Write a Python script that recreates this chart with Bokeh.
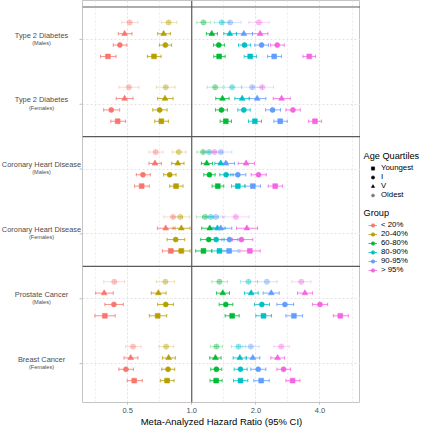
import math
from bokeh.plotting import figure
from bokeh.layouts import row
from bokeh.models import (ColumnDataSource, FixedTicker, Span, Legend, LegendItem,
                          CustomJSTickFormatter)
from bokeh.core.properties import value
from bokeh.embed import file_html
from bokeh.resources import INLINE

# ---------------- data ----------------
CATEGORIES = ["Type 2 Diabetes", "Type 2 Diabetes", "Coronary Heart Disease",
              "Coronary Heart Disease", "Prostate Cancer", "Breast Cancer"]
SUBLABELS = ["(Males)", "(Females)", "(Males)", "(Females)", "(Males)", "(Females)"]
DISEASE = ["T2D", "T2D", "CHD", "CHD", "Cancer", "Cancer"]
QUARTILES = ["Youngest", "I", "V", "Oldest"]
GROUPS = ["< 20%", "20-40%", "60-80%", "80-90%", "90-95%", "> 95%"]

# rows: Youngest, I, V, Oldest ; columns: groups
T2D_M_HR = [[0.404, 0.665, 1.345, 1.881, 2.439, 3.564],
            [0.460, 0.752, 1.340, 1.769, 2.127, 2.520],
            [0.484, 0.738, 1.242, 1.509, 1.756, 2.096],
            [0.511, 0.779, 1.135, 1.384, 1.515, 2.066]]
T2D_M_LO = [[0.373, 0.619, 1.269, 1.763, 2.269, 3.327],
            [0.428, 0.705, 1.265, 1.658, 1.978, 2.344],
            [0.452, 0.692, 1.172, 1.414, 1.622, 1.929],
            [0.469, 0.720, 1.056, 1.274, 1.394, 1.854]]
T2D_M_HI = [[0.441, 0.718, 1.435, 2.014, 2.641, 3.817],
            [0.496, 0.805, 1.424, 1.888, 2.294, 2.719],
            [0.524, 0.794, 1.320, 1.622, 1.929, 2.278],
            [0.559, 0.850, 1.228, 1.498, 1.706, 2.311]]

T2D_F_HR = [[0.449, 0.720, 1.445, 1.978, 2.603, 3.790],
            [0.419, 0.707, 1.379, 1.756, 2.396, 2.986],
            [0.484, 0.749, 1.394, 1.725, 2.029, 2.641],
            [0.507, 0.755, 1.288, 1.548, 1.922, 2.142]]
T2D_F_LO = [[0.417, 0.670, 1.359, 1.847, 2.430, 3.538],
            [0.386, 0.656, 1.292, 1.646, 2.221, 2.768],
            [0.442, 0.692, 1.297, 1.593, 1.861, 2.413],
            [0.455, 0.682, 1.181, 1.419, 1.718, 1.929]]
T2D_F_HI = [[0.489, 0.777, 1.537, 2.127, 2.809, 4.073],
            [0.459, 0.766, 1.471, 1.881, 2.612, 3.233],
            [0.530, 0.817, 1.498, 1.861, 2.229, 2.901],
            [0.565, 0.835, 1.404, 1.712, 2.149, 2.422]]

CHD_M_HR = [[0.582, 0.844, 1.325, 1.646, 1.936, 2.466],
            [0.590, 0.788, 1.211, 1.450, 1.646, 2.059],
            [0.672, 0.860, 1.176, 1.369, 1.445, 1.801],
            [0.677, 0.869, 1.131, 1.207, 1.369, 1.278]]
CHD_M_LO = [[0.539, 0.788, 1.246, 1.537, 1.782, 2.286],
            [0.549, 0.738, 1.139, 1.354, 1.525, 1.901],
            [0.630, 0.805, 1.110, 1.283, 1.345, 1.652],
            [0.630, 0.811, 1.056, 1.131, 1.260, 1.172]]
CHD_M_HI = [[0.632, 0.910, 1.414, 1.775, 2.104, 2.670],
            [0.639, 0.844, 1.288, 1.565, 1.795, 2.237],
            [0.720, 0.920, 1.251, 1.471, 1.587, 1.971],
            [0.733, 0.940, 1.211, 1.297, 1.542, 1.394]]

CHD_F_HR = [[0.797, 0.894, 1.135, 1.349, 1.498, 1.874],
            [None, 0.841, 1.202, 1.302, 1.504, 1.712],
            [0.755, 0.894, 1.215, 1.320, 1.369, 1.815],
            [0.817, 0.884, 1.155, 1.228, 1.297, 1.610]]
CHD_F_LO = [[0.728, 0.817, 1.044, 1.242, 1.369, 1.682],
            [None, 0.766, 1.102, 1.207, 1.384, 1.553],
            [0.690, 0.817, 1.114, 1.228, 1.260, 1.622],
            [0.738, 0.811, 1.052, 1.122, 1.172, 1.394]]
CHD_F_HI = [[0.872, 0.982, 1.242, 1.477, 1.652, 2.096],
            [None, 0.927, 1.311, 1.419, 1.646, 1.936],
            [0.835, 0.982, 1.320, 1.435, 1.542, 2.037],
            [0.904, 0.979, 1.260, 1.335, 1.419, 1.861]]

PROSTATE_HR = [[0.391, 0.692, 1.548, 2.173, 3.018, 4.985],
               [0.431, 0.755, 1.445, 2.134, 2.738, 4.000],
               [0.388, 0.697, 1.399, 1.901, 2.362, 3.400],
               [0.433, 0.752, 1.349, 1.847, 2.253, 3.268]]
PROSTATE_LO = [[0.351, 0.632, 1.435, 2.000, 2.768, 4.621],
               [0.391, 0.692, 1.345, 1.971, 2.511, 3.694],
               [0.354, 0.646, 1.306, 1.769, 2.165, 3.141],
               [0.386, 0.682, 1.242, 1.694, 2.037, 2.953]]
PROSTATE_HI = [[0.437, 0.763, 1.670, 2.370, 3.315, 5.436],
               [0.477, 0.820, 1.559, 2.319, 3.008, 4.347],
               [0.428, 0.758, 1.504, 2.052, 2.575, 3.694],
               [0.484, 0.829, 1.471, 2.037, 2.520, 3.628]]

BREAST_HR = [[0.537, 0.766, 1.302, 1.694, 2.119, 2.975],
             [0.491, 0.774, 1.306, 1.694, 2.052, 2.699],
             [0.517, 0.779, 1.292, 1.682, 1.936, 2.529],
             [0.530, 0.758, 1.306, 1.658, 1.894, 2.632]]
BREAST_LO = [[0.498, 0.712, 1.219, 1.570, 1.957, 2.768],
             [0.455, 0.723, 1.228, 1.582, 1.894, 2.511],
             [0.481, 0.728, 1.215, 1.565, 1.795, 2.353],
             [0.489, 0.702, 1.224, 1.537, 1.731, 2.430]]
BREAST_HI = [[0.586, 0.826, 1.389, 1.834, 2.311, 3.221],
             [0.532, 0.832, 1.384, 1.821, 2.229, 2.911],
             [0.559, 0.838, 1.374, 1.808, 2.089, 2.729],
             [0.578, 0.823, 1.394, 1.795, 2.074, 2.870]]

X_TICKS = [0.5, 1.0, 2.0, 4.0]
LEGEND_TITLES = ["Age Quartiles", "Group"]

# ---------------- styles ----------------
COLORS = ["#F8766D", "#B79F00", "#00BA38", "#00BFC4", "#619CFF", "#F564E3"]
MARKERS = {"Youngest": "square", "I": "circle", "V": "triangle", "Oldest": "circle_cross"}
SIZES = {"Youngest": 4.8, "I": 5.0, "V": 5.8, "Oldest": 5.4}
ALPHAS = {"Youngest": 1.0, "I": 1.0, "V": 1.0, "Oldest": 0.35}
OFFSETS = {"Youngest": -0.2625, "I": -0.0875, "V": 0.0875, "Oldest": 0.2625}
FONT = "Liberation Sans"
FRAME_H = 402
TOTAL_H = 432
LEFT_W, MAIN_W, LEG_W = 82, 278, 60

tables = [(T2D_M_HR, T2D_M_LO, T2D_M_HI), (T2D_F_HR, T2D_F_LO, T2D_F_HI),
          (CHD_M_HR, CHD_M_LO, CHD_M_HI), (CHD_F_HR, CHD_F_LO, CHD_F_HI),
          (PROSTATE_HR, PROSTATE_LO, PROSTATE_HI), (BREAST_HR, BREAST_LO, BREAST_HI)]
n_cat = len(CATEGORIES)
cat_pos = [n_cat - i for i in range(n_cat)]  # top category highest
y_lo, y_hi = 0.4, n_cat + 0.6

def bare(fig):
    fig.grid.visible = False
    return fig

# ---------------- main panel ----------------
p = figure(frame_width=MAIN_W, frame_height=FRAME_H, x_axis_type="log", x_range=(0.307, 6.2),
           y_range=(y_lo, y_hi), output_backend="svg", toolbar_location=None,
           y_axis_location=None,
           min_border_left=0, min_border_right=0, min_border_top=0, min_border_bottom=0,
           background_fill_color="white", border_fill_color="white")

minor = [math.sqrt(a * b) for a, b in zip([X_TICKS[0] / 2] + X_TICKS, X_TICKS + [X_TICKS[-1] * 2])]
p.xaxis.ticker = FixedTicker(ticks=X_TICKS, minor_ticks=minor)
p.ygrid.ticker = FixedTicker(ticks=cat_pos)
for g in (p.xgrid, p.ygrid):
    g.grid_line_color = "#e3e3e3"
    g.grid_line_dash = "2 2"
    g.grid_line_width = 1
p.xgrid.minor_grid_line_color = "#ececec"
p.xgrid.minor_grid_line_dash = "2 2"

p.add_layout(Span(location=1.0, dimension="height", line_color="#5a5a5a", line_width=1.2))
for i in range(n_cat):
    if i == 0 or DISEASE[i] != DISEASE[i - 1]:
        p.add_layout(Span(location=cat_pos[i] + 0.5, dimension="width",
                          line_color="#5a5a5a", line_width=1.2))

for qi, q in enumerate(QUARTILES):
    xs, ys, los, his, cols = [], [], [], [], []
    for ci, (hr, lo, hi) in enumerate(tables):
        for gi in range(len(GROUPS)):
            if hr[qi][gi] is None:
                continue
            xs.append(hr[qi][gi]); los.append(lo[qi][gi]); his.append(hi[qi][gi])
            ys.append(cat_pos[ci] + OFFSETS[q]); cols.append(COLORS[gi])
    src = ColumnDataSource(dict(x=xs, y=ys, lo=los, hi=his, c=cols))
    a = ALPHAS[q]
    p.segment(x0="lo", y0="y", x1="hi", y1="y", source=src, line_color="c",
              line_width=1, line_alpha=a * 0.8)
    for end in ("lo", "hi"):
        p.scatter(x=end, y="y", source=src, marker="dash", angle=math.pi / 2, size=3.5,
                  line_color="c", line_width=1, line_alpha=a * 0.8)
    p.scatter(x="x", y="y", source=src, marker=MARKERS[q], size=SIZES[q],
              fill_color="c", line_color="c", line_width=0.6, fill_alpha=a, line_alpha=a)

p.xaxis.formatter = CustomJSTickFormatter(code="return tick.toFixed(1);")
p.xaxis.axis_label = "Meta-Analyzed Hazard Ratio (95% CI)"
p.xaxis.axis_label_text_font = FONT
p.xaxis.axis_label_text_font_style = "normal"
p.xaxis.axis_label_text_font_size = "9.5px"
p.xaxis.axis_label_text_color = "black"
p.xaxis.axis_label_standoff = 0
p.xaxis.major_label_text_font = FONT
p.xaxis.major_label_text_font_size = "7.5px"
p.xaxis.major_label_text_color = "#4d4d4d"
p.xaxis.major_label_standoff = 1
p.xaxis.axis_line_color = None
p.xaxis.major_tick_line_color = "#bdbdbd"
p.xaxis.major_tick_out = 2
p.xaxis.major_tick_in = 0
p.xaxis.minor_tick_line_color = None
p.outline_line_color = "#c4c4c4"
p.outline_line_width = 1

# ---------------- left label panel ----------------
lf = bare(figure(frame_width=LEFT_W, frame_height=FRAME_H, x_range=(0, LEFT_W), y_range=p.y_range,
                 output_backend="svg", toolbar_location=None,
                 x_axis_location=None, y_axis_location=None,
                 min_border_left=0, min_border_right=0, min_border_top=0, min_border_bottom=0,
                 outline_line_color=None, background_fill_color="white",
                 border_fill_color="white"))
lab_src = ColumnDataSource(dict(y=cat_pos, main=CATEGORIES, sub=SUBLABELS,
                                x=[LEFT_W / 2] * n_cat, xt=[LEFT_W] * n_cat))
lf.text(x="x", y="y", text="main", source=lab_src, y_offset=-4.3,
        text_align="center", text_baseline="middle",
        text_font=value(FONT), text_font_size="7.4px", text_color="#4d4d4d")
lf.text(x="x", y="y", text="sub", source=lab_src, y_offset=3.4,
        text_align="center", text_baseline="middle",
        text_font=value(FONT), text_font_size="5.6px", text_color="#4d4d4d")
lf.scatter(x="xt", y="y", source=lab_src, marker="dash", size=6, line_color="#bdbdbd",
           line_width=1)

# ---------------- legend panel ----------------
lg = bare(figure(frame_width=LEG_W, frame_height=TOTAL_H, x_range=(0, LEG_W), y_range=(0, TOTAL_H),
                 output_backend="svg", toolbar_location=None,
                 x_axis_location=None, y_axis_location=None,
                 min_border_left=0, min_border_right=0, min_border_top=0, min_border_bottom=0,
                 outline_line_color=None, background_fill_color="white",
                 border_fill_color="white"))
lg.text(x=[3, 3], y=[TOTAL_H - 155, TOTAL_H - 212], text=LEGEND_TITLES,
        text_align="left", text_baseline="middle",
        text_font=value(FONT), text_font_size="9.2px", text_color="black")

OFF = [-50]  # legend-only renderers sit outside the visible range
q_items = []
for q in QUARTILES:
    r = lg.scatter(x=OFF, y=OFF, marker=MARKERS[q], size=4.6,
                   fill_color="black", line_color="black", line_width=0.6,
                   fill_alpha=ALPHAS[q], line_alpha=ALPHAS[q])
    q_items.append(LegendItem(label=q, renderers=[r]))
g_items = []
for g, c in zip(GROUPS, COLORS):
    r1 = lg.segment(x0=OFF, y0=OFF, x1=OFF, y1=OFF, line_color=c, line_width=1, line_alpha=0.8)
    r2 = lg.scatter(x=OFF, y=OFF, marker="circle", size=4.2, fill_color=c, line_color=c)
    g_items.append(LegendItem(label=g, renderers=[r1, r2]))

def style_legend(leg):
    leg.label_text_font = FONT
    leg.label_text_font_size = "7.8px"
    leg.label_text_color = "black"
    leg.label_height = 8
    leg.label_standoff = 4
    leg.glyph_height = 8
    leg.glyph_width = 9
    leg.spacing = 0
    leg.padding = 0
    leg.margin = 0
    leg.border_line_color = None
    leg.background_fill_alpha = 0

leg1 = Legend(items=q_items, location=(8, TOTAL_H - 199))
leg2 = Legend(items=g_items, location=(8, TOTAL_H - 274))
style_legend(leg1)
style_legend(leg2)
lg.add_layout(leg1, "center")
lg.add_layout(leg2, "center")

layout = row(lf, p, lg, spacing=0)
open("out.html", "w").write(file_html(layout, INLINE))
